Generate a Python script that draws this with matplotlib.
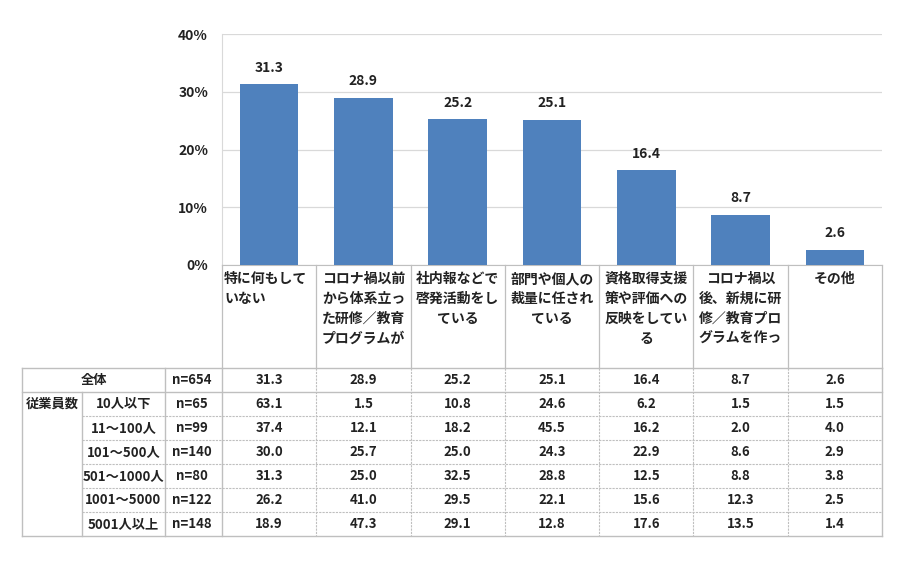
import matplotlib
matplotlib.use('Agg')
import matplotlib.pyplot as plt
import numpy as np

plt.rcParams['font.family'] = ['Noto Sans CJK JP', 'DejaVu Sans']

# --- data ---
categories = [
    "特に何もして\nいない",
    "コロナ禍以前\nから体系立っ\nた研修／教育\nプログラムが",
    "社内報などで\n啓発活動をし\nている",
    "部門や個人の\n裁量に任され\nている",
    "資格取得支援\n策や評価への\n反映をしてい\nる",
    "コロナ禍以\n後、新規に研\n修／教育プロ\nグラムを作っ",
    "その他",
]
overall = [31.3, 28.9, 25.2, 25.1, 16.4, 8.7, 2.6]

row_labels = ["10人以下", "11～100人", "101～500人", "501～1000人", "1001～5000", "5001人以上"]
row_n = ["n=65", "n=99", "n=140", "n=80", "n=122", "n=148"]
row_values = [
    [63.1, 1.5, 10.8, 24.6, 6.2, 1.5, 1.5],
    [37.4, 12.1, 18.2, 45.5, 16.2, 2.0, 4.0],
    [30.0, 25.7, 25.0, 24.3, 22.9, 8.6, 2.9],
    [31.3, 25.0, 32.5, 28.8, 12.5, 8.8, 3.8],
    [26.2, 41.0, 29.5, 22.1, 15.6, 12.3, 2.5],
    [18.9, 47.3, 29.1, 12.8, 17.6, 13.5, 1.4],
]
overall_label = "全体"
overall_n = "n=654"
group_label = "従業員数"

W, H = 918, 561
fig = plt.figure(figsize=(W / 100, H / 100), dpi=100)

# pixel layout
x0, x1 = 222, 882
y_top, y_zero = 34, 265
tab_top, row_h = 368, 24
col_edges = [22, 82, 165, 219]

bar_color = '#4F81BD'
line_c = '#BFBFBF'
text_c = '#222222'
fs = 9.5

ax = fig.add_axes([x0 / W, 1 - y_zero / H, (x1 - x0) / W, (y_zero - y_top) / H])
xpos = np.arange(len(overall))
bars = ax.bar(xpos, overall, width=0.62, color=bar_color, zorder=3)
ax.bar_label(bars, labels=[f"{v:.1f}" for v in overall], padding=7,
             fontsize=10, fontweight='bold', color=text_c)
ax.set_xlim(-0.5, len(overall) - 0.5)
ax.set_ylim(0, 40)
ax.set_yticks([0, 10, 20, 30, 40])
ax.set_yticklabels([f"{t}%" for t in [0, 10, 20, 30, 40]], fontsize=10,
                   fontweight='bold', color=text_c)
ax.tick_params(axis='y', length=0, pad=10)
ax.set_xticks([])
ax.grid(axis='y', color='#D9D9D9', linewidth=0.9, zorder=0)
for s in ['top', 'right']:
    ax.spines[s].set_visible(False)
ax.spines['left'].set_color('#D9D9D9')
ax.spines['bottom'].set_color(line_c)

# overlay axes in pixel coordinates for labels and table
ov = fig.add_axes([0, 0, 1, 1])
ov.set_xlim(0, W)
ov.set_ylim(H, 0)
ov.axis('off')

col_w = (x1 - x0) / len(overall)
centers = [x0 + col_w * (i + 0.5) for i in range(len(overall))]
data_edges = [x0 + col_w * i for i in range(len(overall) + 1)]

# category label area
for xe in data_edges:
    ov.plot([xe, xe], [y_zero, tab_top], color=line_c, lw=0.9)
for i, lab in enumerate(categories):
    if i == 0:
        ov.text(x0 + 2, 272, lab, ha='left', va='top', fontsize=10,
                fontweight='bold', color=text_c, linespacing=1.55,
                multialignment='left')
    else:
        ov.text(centers[i], 272, lab, ha='center', va='top', fontsize=10,
                fontweight='bold', color=text_c, linespacing=1.55,
                multialignment='center')

# table
n_rows = len(row_labels) + 1
tab_bot = tab_top + row_h * n_rows
left, right = col_edges[0], x1
ov.plot([left, right], [tab_top, tab_top], color=line_c, lw=1)
ov.plot([left, right], [tab_top + row_h, tab_top + row_h], color=line_c, lw=1)
ov.plot([left, right], [tab_bot, tab_bot], color=line_c, lw=1)
for r in range(2, n_rows):
    yy = tab_top + row_h * r
    ov.plot([col_edges[1], right], [yy, yy], color=line_c, lw=0.8, ls=(0, (2, 1)))
ov.plot([left, left], [tab_top, tab_bot], color=line_c, lw=1)
ov.plot([right, right], [tab_top, tab_bot], color=line_c, lw=1)
ov.plot([col_edges[1], col_edges[1]], [tab_top + row_h, tab_bot], color=line_c, lw=1)
ov.plot([col_edges[2], col_edges[2]], [tab_top, tab_bot], color=line_c, lw=1)
ov.plot([x0, x0], [tab_top, tab_bot], color=line_c, lw=1)
for xe in data_edges[1:-1]:
    ov.plot([xe, xe], [tab_top, tab_bot], color=line_c, lw=0.8, ls=(0, (2, 1)))

def cell(x, y, s):
    ov.text(x, y, s, ha='center', va='center', fontsize=fs,
            fontweight='bold', color=text_c)

yc = tab_top + row_h / 2
cell((col_edges[0] + col_edges[2]) / 2, yc, overall_label)
cell((col_edges[2] + col_edges[3]) / 2, yc, overall_n)
for i, v in enumerate(overall):
    cell(centers[i], yc, f"{v:.1f}")

for r, (lab, n, vals) in enumerate(zip(row_labels, row_n, row_values)):
    yc = tab_top + row_h * (r + 1.5)
    if r == 0:
        cell((col_edges[0] + col_edges[1]) / 2, yc, group_label)
    cell((col_edges[1] + col_edges[2]) / 2, yc, lab)
    cell((col_edges[2] + col_edges[3]) / 2, yc, n)
    for i, v in enumerate(vals):
        cell(centers[i], yc, f"{v:.1f}")

fig.savefig('out.png', dpi=100)
